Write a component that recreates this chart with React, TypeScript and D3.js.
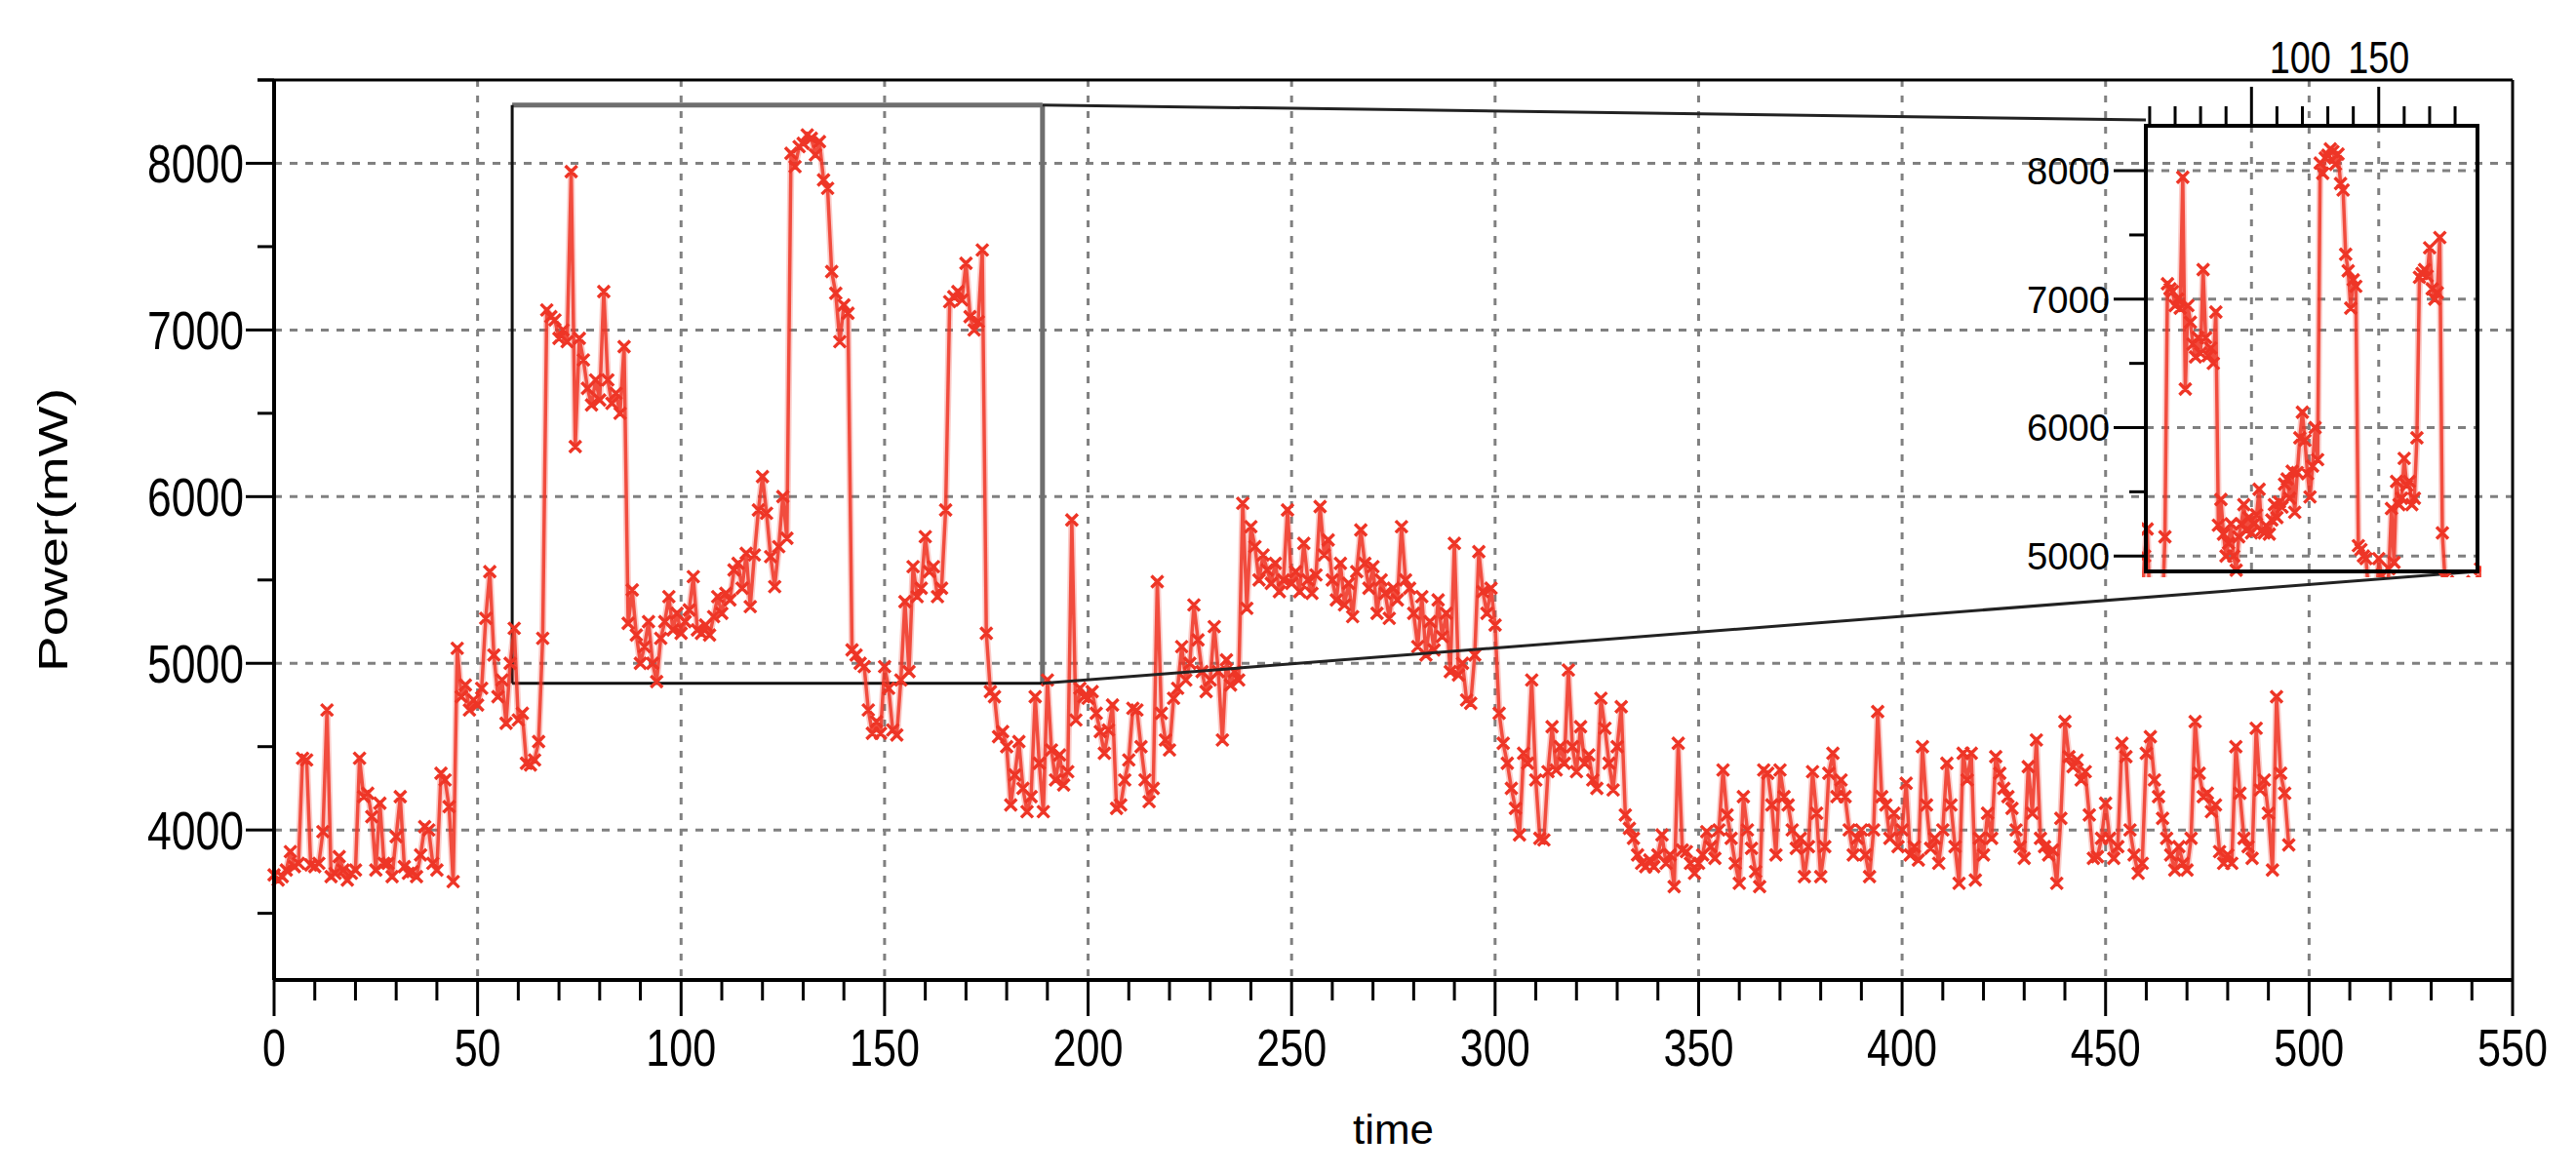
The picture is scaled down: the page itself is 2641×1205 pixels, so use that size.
import React from "react";
import * as d3 from "d3";

// ---- data (time step = index) ----
const powerMw: number[] = [
  3730,3700,3720,3760,3870,3780,3800,4430,4420,3790,
  3780,3800,3990,4720,3720,3740,3840,3760,3700,3740,
  3760,4430,4200,4220,4080,3760,4160,3800,3800,3720,
  3960,4200,3780,3740,3750,3720,3850,4020,4000,3800,
  3760,4340,4300,4140,3690,5090,4800,4870,4720,4780,
  4750,4850,5270,5550,5050,4800,4900,4640,5000,5210,
  4660,4700,4400,4390,4420,4530,5150,7120,7080,7060,
  6950,7000,6930,7950,6300,6950,6820,6650,6550,6700,
  6580,7230,6700,6560,6620,6500,6900,5240,5440,5170,
  5000,5100,5250,5000,4890,5150,5250,5400,5200,5300,
  5180,5250,5320,5520,5200,5180,5230,5170,5280,5400,
  5300,5420,5380,5560,5600,5450,5660,5340,5650,5920,
  6120,5900,5640,5460,5700,6000,5750,8060,7980,8100,
  8120,8170,8150,8050,8130,7900,7850,7350,7220,6930,
  7150,7100,5080,5050,5000,4980,4720,4580,4650,4580,
  4980,4850,4600,4570,4900,5370,4950,5580,5400,5450,
  5760,5550,5580,5400,5450,5920,7170,7200,7230,7180,
  7400,7080,7000,7050,7480,5180,4830,4800,4560,4590,
  4500,4150,4330,4530,4250,4110,4200,4800,4400,4110,
  4900,4480,4300,4450,4270,4350,5860,4660,4850,4800,
  4790,4830,4700,4590,4460,4600,4750,4130,4150,4300,
  4420,4730,4720,4500,4300,4170,4250,5490,4700,4540,
  4480,4790,4850,5100,4900,5000,5350,5140,4950,4830,
  4900,5220,4950,4540,5020,4870,4950,4900,5960,5330,
  5820,5700,5500,5650,5560,5480,5600,5430,5500,5920,
  5480,5550,5430,5720,5500,5420,5530,5940,5650,5740,
  5500,5380,5600,5350,5480,5280,5550,5800,5600,5450,
  5580,5300,5500,5420,5270,5450,5380,5820,5500,5450,
  5300,5100,5400,5050,5250,5080,5380,5160,5300,4950,
  5720,4930,5000,4780,4760,5050,5670,5430,5300,5450,
  5230,4700,4520,4400,4250,4130,3970,4460,4400,4900,
  4300,3950,3940,4350,4620,4360,4500,4400,4960,4500,
  4350,4620,4400,4450,4300,4250,4790,4610,4400,4240,
  4500,4740,4090,4010,3950,3850,3800,3780,3820,3780,
  3850,3970,3800,3850,3660,4520,3880,3870,3800,3740,
  3800,3850,3990,3900,3830,4000,4360,4090,3950,3800,
  3680,4200,4000,3890,3750,3660,4360,4340,4150,3850,
  4360,4200,4150,4000,3890,3950,3720,3900,4350,4100,
  3720,3900,4340,4460,4200,4300,4200,4000,3850,3950,
  4000,3850,3720,4000,4710,4200,4150,3950,4100,3900,
  4000,4280,3850,3900,3820,4500,4150,3890,3950,3800,
  4000,4400,4150,3900,3680,4460,4300,4460,3700,3950,
  3850,4100,3950,4440,4340,4250,4200,4130,4000,3900,
  3830,4380,4100,4540,3950,3900,3850,3880,3680,4070,
  4650,4440,4380,4420,4300,4350,4090,3830,3840,3950,
  4160,3950,3830,3900,4520,4440,4000,3850,3740,3800,
  4460,4560,4300,4200,4070,3950,3850,3760,3900,3800,
  3760,3950,4650,4340,4200,4220,4110,4150,3870,3800,
  3850,3800,4500,4220,3950,3900,3830,4610,4240,4300,
  4100,3760,4800,4340,4220,3910,
];

const xMajorTicks = [0, 50, 100, 150, 200, 250, 300, 350, 400, 450, 500, 550];
const yMajorTicks = [4000, 5000, 6000, 7000, 8000];
const yMinorTicks = [3500, 4500, 5500, 6500, 7500, 8500];
const xDomain: [number, number] = [0, 550];
const yDomain: [number, number] = [3100, 8500];

const zoomTime: [number, number] = [58.5, 188.8];
const zoomPower: [number, number] = [4880, 8350];
const insetYMajor = [5000, 6000, 7000, 8000];
const insetYMinor = [5500, 6500, 7500];
const insetXTicks = [60, 70, 80, 90, 100, 110, 120, 130, 140, 150, 160, 170, 180];
const insetXMajor = [100, 150];

const FONT = "'Liberation Sans', Arial, sans-serif";
const RED = "#ee3526";
const GRID = "#808080";

function markerPath(pts: [number, number][], s: number) {
  return pts
    .map(([cx, cy]) => `M${cx - s},${cy - s}L${cx + s},${cy + s}M${cx - s},${cy + s}L${cx + s},${cy - s}`)
    .join("");
}

function Series({ d, pts }: { d: string; pts: [number, number][] }) {
  return (
    <g>
      <path d={d} fill="none" stroke={RED} strokeOpacity={0.25} strokeWidth={7} strokeLinejoin="round" />
      <path d={d} fill="none" stroke={RED} strokeOpacity={0.85} strokeWidth={3.5} strokeLinejoin="round" />
      <path d={markerPath(pts, 6)} fill="none" stroke={RED} strokeWidth={3.4} />
    </g>
  );
}

export default function App() {
  const W = 2641, H = 1205;
  const L = 281, R = 2576, T = 82, B = 1005;
  const x = d3.scaleLinear().domain(xDomain).range([L, R]);
  const y = d3.scaleLinear().domain(yDomain).range([B, T]);

  const IL = 2200, IR = 2540, IT = 129, IB = 586;
  const xi = d3.scaleLinear().domain(zoomTime).range([IL, IR]);
  const yi = d3.scaleLinear().domain(zoomPower).range([IB, IT]);

  const line = d3.line<number>().x((_, i) => x(i)).y((d) => y(d));
  const lineI = d3.line<number>().x((_, i) => xi(i)).y((d) => yi(d));

  const mainPts: [number, number][] = powerMw.map((d, i) => [x(i), y(d)]);
  const insetPts: [number, number][] = powerMw
    .map((d, i) => [xi(i), yi(d)] as [number, number])
    .filter((_, i) => i >= zoomTime[0] - 2 && i <= zoomTime[1] + 2);

  const minorX = d3.range(0, 551, 10).filter((v) => v % 50 !== 0);

  const zx0 = x(zoomTime[0]), zx1 = x(zoomTime[1]);
  const zy0 = y(zoomPower[1]), zy1 = y(zoomPower[0]);

  return (
    <svg width={W} height={H} style={{ position: "absolute", left: 0, top: 0, background: "#fff" }}>
      <defs>
        <clipPath id="insetClip">
          <rect x={IL - 4} y={IT - 4} width={IR - IL + 8} height={IB - IT + 10} />
        </clipPath>
      </defs>
      <rect x={0} y={0} width={W} height={H} fill="#fff" />

      {/* main grid */}
      {yMajorTicks.map((v) => (
        <line key={"gy" + v} x1={L} x2={R} y1={y(v)} y2={y(v)} stroke={GRID} strokeWidth={3} strokeDasharray="8 8" />
      ))}
      {xMajorTicks.filter((v) => v > 0 && v < 550).map((v) => (
        <line key={"gx" + v} x1={x(v)} x2={x(v)} y1={T} y2={B} stroke={GRID} strokeWidth={3} strokeDasharray="7 9" />
      ))}

      {/* zoom rectangle */}
      <line x1={zx0} x2={zx1} y1={zy0} y2={zy0} stroke="#6e6e6e" strokeWidth={5} />
      <line x1={zx1} x2={zx1} y1={zy0} y2={zy1} stroke="#6e6e6e" strokeWidth={5} />
      <line x1={zx0} x2={zx0} y1={zy0} y2={zy1} stroke="#111" strokeWidth={3} />
      <line x1={zx0} x2={zx1} y1={zy1} y2={zy1} stroke="#111" strokeWidth={3} />

      {/* main series */}
      <Series d={line(powerMw) || ""} pts={mainPts} />

      {/* connectors */}
      <line x1={zx1} y1={zy0} x2={IL} y2={IT - 6} stroke="#222" strokeWidth={3} />
      <line x1={zx1} y1={zy1} x2={IR} y2={IB} stroke="#222" strokeWidth={3} />

      {/* inset */}
      {insetYMajor.map((v) => (
        <line key={"igy" + v} x1={IL} x2={IR} y1={yi(v)} y2={yi(v)} stroke={GRID} strokeWidth={3} strokeDasharray="8 8" />
      ))}
      {insetXMajor.map((v) => (
        <line key={"igx" + v} x1={xi(v)} x2={xi(v)} y1={IT} y2={IB} stroke={GRID} strokeWidth={3} strokeDasharray="7 9" />
      ))}
      <g clipPath="url(#insetClip)">
        <Series d={lineI(powerMw) || ""} pts={insetPts} />
      </g>
      <rect x={IL} y={IT} width={IR - IL} height={IB - IT} fill="none" stroke="#000" strokeWidth={4} />
      {insetXTicks.map((v) => {
        const major = insetXMajor.includes(v);
        return <line key={"itx" + v} x1={xi(v)} x2={xi(v)} y1={IT} y2={IT - (major ? 40 : 20)} stroke="#000" strokeWidth={3} />;
      })}
      {insetYMajor.map((v) => (
        <line key={"ity" + v} x1={IL - 33} x2={IL} y1={yi(v)} y2={yi(v)} stroke="#000" strokeWidth={3} />
      ))}
      {insetYMinor.map((v) => (
        <line key={"itym" + v} x1={IL - 17} x2={IL} y1={yi(v)} y2={yi(v)} stroke="#000" strokeWidth={3} />
      ))}
      {insetYMajor.map((v) => (
        <text key={"ily" + v} x={IL - 37 - 85} y={yi(v) + 14} fontFamily={FONT} fontSize={39} textLength={85} lengthAdjust="spacingAndGlyphs" fill="#000">
          {v}
        </text>
      ))}
      <text x={xi(100) + 50 - 31.5} y={75} fontFamily={FONT} fontSize={47} textLength={63} lengthAdjust="spacingAndGlyphs" fill="#000">100</text>
      <text x={xi(150) - 31.5} y={75} fontFamily={FONT} fontSize={47} textLength={63} lengthAdjust="spacingAndGlyphs" fill="#000">150</text>

      {/* main frame & axes */}
      <line x1={264} x2={R} y1={T} y2={T} stroke="#000" strokeWidth={3} />
      <line x1={R} x2={R} y1={T} y2={B} stroke="#000" strokeWidth={3} />
      <line x1={L} x2={L} y1={T} y2={B} stroke="#000" strokeWidth={4} />
      <line x1={L} x2={R} y1={B} y2={B} stroke="#000" strokeWidth={4} />

      {yMajorTicks.map((v) => (
        <line key={"ty" + v} x1={252} x2={L} y1={y(v)} y2={y(v)} stroke="#000" strokeWidth={3} />
      ))}
      {yMinorTicks.map((v) => (
        <line key={"tym" + v} x1={264} x2={L} y1={y(v)} y2={y(v)} stroke="#000" strokeWidth={3} />
      ))}
      {xMajorTicks.map((v) => (
        <line key={"tx" + v} x1={x(v)} x2={x(v)} y1={B} y2={B + 37} stroke="#000" strokeWidth={3} />
      ))}
      {minorX.map((v) => (
        <line key={"txm" + v} x1={x(v)} x2={x(v)} y1={B} y2={B + 21} stroke="#000" strokeWidth={3} />
      ))}

      {yMajorTicks.map((v) => (
        <text key={"ly" + v} x={250 - 99} y={y(v) + 20} fontFamily={FONT} fontSize={56} textLength={99} lengthAdjust="spacingAndGlyphs" fill="#000">
          {v}
        </text>
      ))}
      {xMajorTicks.map((v) => {
        const s = String(v);
        const len = 24 * s.length;
        return (
          <text key={"lx" + v} x={x(v) - len / 2} y={1093} fontFamily={FONT} fontSize={54} textLength={len} lengthAdjust="spacingAndGlyphs" fill="#000">
            {s}
          </text>
        );
      })}

      <text x={(L + R) / 2 - 41.5} y={1173} fontFamily={FONT} fontSize={42} textLength={83} lengthAdjust="spacingAndGlyphs" fill="#000">time</text>
      <g transform={`translate(69, ${(T + B) / 2}) rotate(-90)`}>
        <text x={-145.5} y={0} fontFamily={FONT} fontSize={42} textLength={291} lengthAdjust="spacingAndGlyphs" fill="#000">Power(mW)</text>
      </g>
    </svg>
  );
}
